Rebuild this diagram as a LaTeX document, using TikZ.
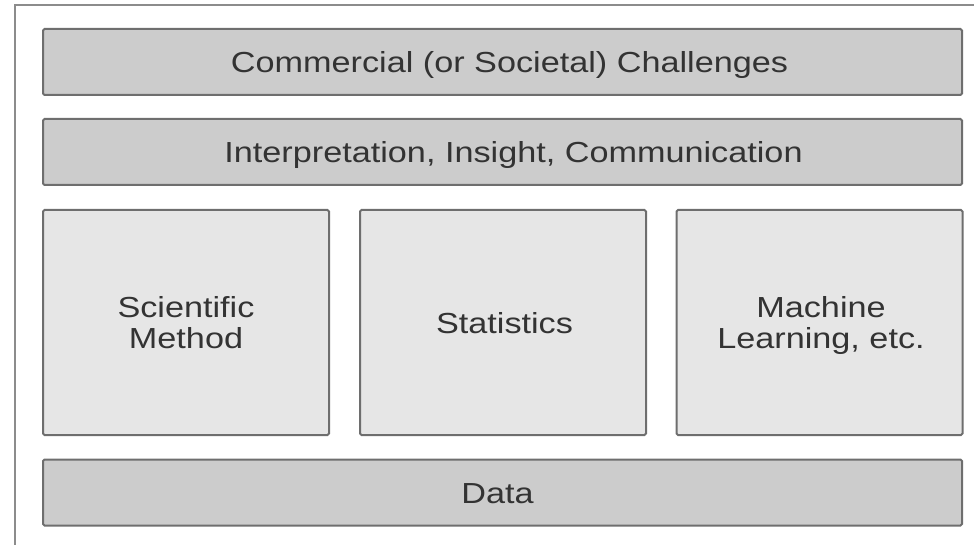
\documentclass[tikz,border=0pt]{standalone}
\usepackage{fontspec}
\setmainfont{Liberation Sans}
\usepackage{graphicx}
\definecolor{framegray}{HTML}{8C8C8C}
\definecolor{edgegray}{HTML}{6E6E6E}
\definecolor{darkfill}{HTML}{CCCCCC}
\definecolor{lightfill}{HTML}{E6E6E6}
\definecolor{textgray}{HTML}{333333}
% stretched text, lowered a little; optional argument moves it sideways
\newcommand{\widetext}[2][0pt]{\hspace*{#1}\raisebox{-4.5pt}[\height][\depth]{\scalebox{1.18}[1]{\begin{tabular}{@{}c@{}}#2\end{tabular}}}}
\begin{document}
\begin{tikzpicture}[x=1pt,y=-1pt,
    layer/.style={draw=edgegray,line width=2pt,rounded corners=1.5pt,fill=darkfill,
      text=textgray,font=\fontsize{29}{31}\selectfont,minimum width=919pt,minimum height=66pt,inner sep=0pt},
    pillar/.style={layer,fill=lightfill,minimum width=286pt,minimum height=225pt}]
      \useasboundingbox (0,0) rectangle (974,545);
      % outer frame, cut off at the right and bottom
      \draw[framegray,line width=1.5pt] (15,545) -- (15,5) -- (974,5);
      \node[layer] (challenges) at (502.5,62) {\widetext[14pt]{Commercial (or Societal) Challenges}};
      \node[layer] (insight) at (502.5,152) {\widetext[22pt]{Interpretation, Insight, Communication}};
      \node[pillar] (method) at (186,322.5) {\widetext{Scientific\\Method}};
      \node[pillar] (stats) at (503,322.5) {\widetext[3pt]{Statistics}};
      \node[pillar] (learning) at (819.5,322.5) {\widetext[3pt]{Machine\\Learning, etc.}};
      \node[layer] (data) at (502.5,492.5) {\widetext[-10pt]{Data}};
    \end{tikzpicture}
\end{document}
